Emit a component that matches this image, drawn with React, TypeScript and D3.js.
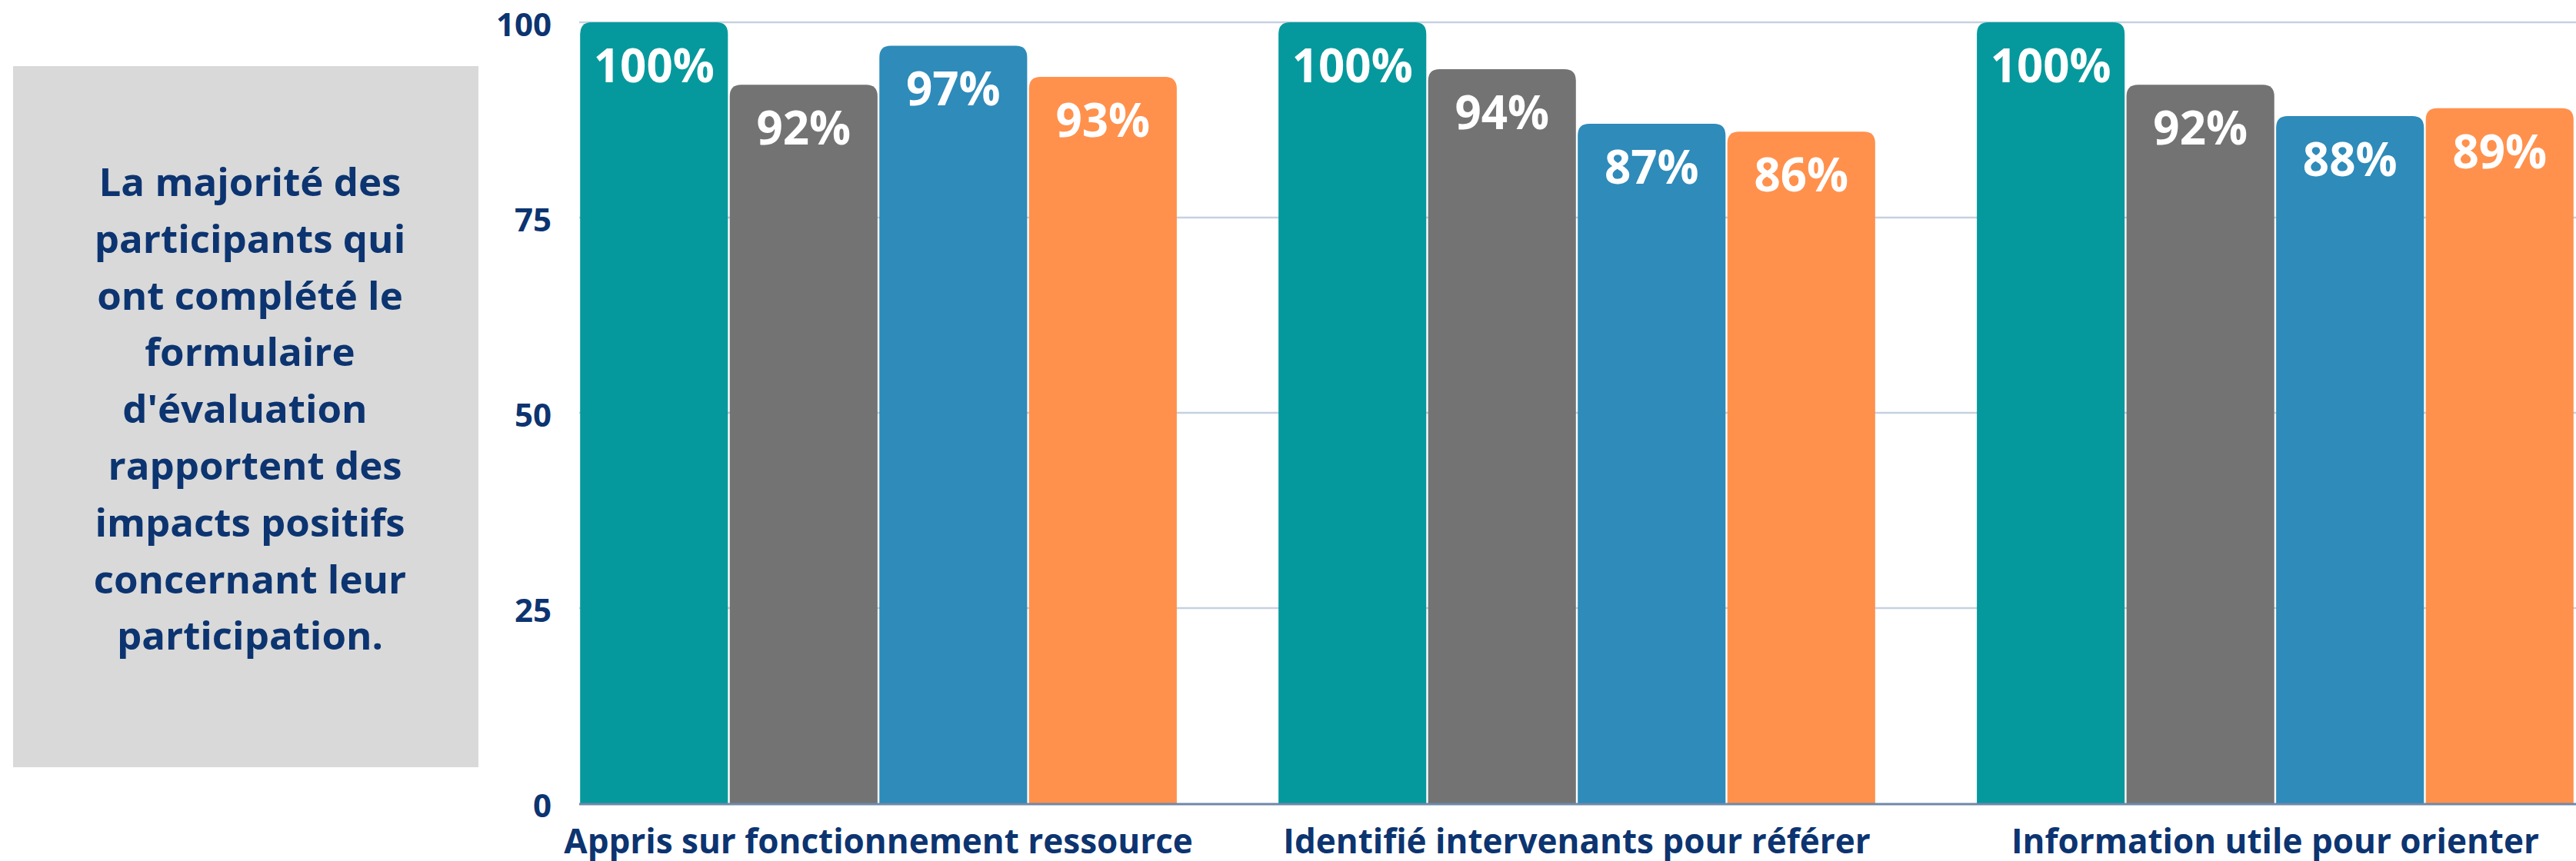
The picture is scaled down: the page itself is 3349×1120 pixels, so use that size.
import * as React from "react";
import { useEffect, useRef } from "react";
import * as d3 from "d3";

const categories = [
  "Appris sur fonctionnement ressource",
  "Identifié intervenants pour référer",
  "Information utile pour orienter",
];
const seriesKeys = ["s1", "s2", "s3", "s4"];
const series1 = [100, 100, 100];
const series2 = [92, 94, 92];
const series3 = [97, 87, 88];
const series4 = [93, 86, 89];
const seriesColors = ["#05999d", "#737373", "#2e8bba", "#ff914d"];
const yTicks = [0, 25, 50, 75, 100];
const noteLines = [
  "La majorité des",
  "participants qui",
  "ont complété le",
  "formulaire",
  "d'évaluation ",
  " rapportent des",
  "impacts positifs",
  "concernant leur",
  "participation.",
];

const W = 3349;
const H = 1120;
const FONT = "'Open Sans', sans-serif";
const NAVY = "#0c3470";

// path for a bar with rounded top corners only
function topRounded(x: number, y: number, w: number, h: number, r: number) {
  const rr = Math.min(r, w / 2, h);
  return `M${x},${y + h}V${y + rr}Q${x},${y} ${x + rr},${y}H${x + w - rr}Q${x + w},${y} ${x + w},${y + rr}V${y + h}Z`;
}

const App = () => {
  const ref = useRef<SVGSVGElement>(null);

  useEffect(() => {
    const svg = d3.select(ref.current);
    svg.selectAll("*").remove();

    const left = 753;
    const right = 3347;
    const top = 29;
    const bottom = 1045;

    const x0 = d3.scaleBand().domain(categories).range([left, right]).paddingInner(0.143).paddingOuter(0);
    const x1 = d3.scaleBand().domain(seriesKeys).range([0, x0.bandwidth()]).padding(0);
    const y = d3.scaleLinear().domain([0, 100]).range([bottom, top]);

    const rows = categories.map((c, i) => ({
      cat: c,
      vals: [series1[i], series2[i], series3[i], series4[i]],
    }));

    // note box
    svg.append("rect").attr("x", 17).attr("y", 86).attr("width", 605).attr("height", 912).attr("fill", "#d9d9d9");
    svg
      .append("g")
      .selectAll("text")
      .data(noteLines)
      .enter()
      .append("text")
      .attr("x", 325)
      .attr("y", (d, i) => 255 + i * 73.8)
      .attr("text-anchor", "middle")
      .style("white-space", "pre")
      .attr("font-family", FONT)
      .attr("font-weight", 700)
      .attr("font-size", 51)
      .attr("fill", NAVY)
      .text((d) => d);

    // grid
    svg
      .append("g")
      .selectAll("line")
      .data(yTicks.filter((t) => t > 0))
      .enter()
      .append("line")
      .attr("x1", left)
      .attr("x2", W)
      .attr("y1", (d) => y(d))
      .attr("y2", (d) => y(d))
      .attr("stroke", "#c6d1e0")
      .attr("stroke-width", 2.5);

    // y labels
    const yAxis = svg
      .append("g")
      .attr("transform", `translate(${left},4)`)
      .call(d3.axisLeft(y).tickValues(yTicks).tickSize(0).tickPadding(36).tickFormat(d3.format("d")));
    yAxis.select(".domain").remove();
    yAxis
      .selectAll("text")
      .attr("font-family", FONT)
      .attr("font-weight", 700)
      .attr("font-size", 42)
      .attr("fill", NAVY);

    // bars
    const groups = svg
      .append("g")
      .selectAll("g")
      .data(rows)
      .enter()
      .append("g")
      .attr("transform", (d) => `translate(${x0(d.cat)},0)`);

    groups
      .selectAll("path")
      .data((d) => d.vals.map((v, j) => ({ key: seriesKeys[j], v, j })))
      .enter()
      .append("path")
      .attr("d", (d) => topRounded(x1(d.key)! + 1.2, y(d.v), x1.bandwidth() - 2.4, bottom - y(d.v), 15))
      .attr("fill", (d) => seriesColors[d.j]);

    groups
      .selectAll("text")
      .data((d) => d.vals.map((v, j) => ({ key: seriesKeys[j], v, j })))
      .enter()
      .append("text")
      .attr("x", (d) => x1(d.key)! + x1.bandwidth() / 2)
      .attr("y", (d) => y(d.v) + 78)
      .attr("text-anchor", "middle")
      .attr("font-family", FONT)
      .attr("font-weight", 700)
      .attr("font-size", 60)
      .attr("fill", "#ffffff")
      .text((d) => `${d.v}%`);

    // baseline
    svg
      .append("line")
      .attr("x1", left)
      .attr("x2", W)
      .attr("y1", y(0) + 1)
      .attr("y2", y(0) + 1)
      .attr("stroke", "#6f88a8")
      .attr("stroke-width", 3);

    // category labels
    svg
      .append("g")
      .selectAll("text")
      .data(categories)
      .enter()
      .append("text")
      .attr("x", (d) => x0(d)! + x0.bandwidth() / 2)
      .attr("y", 1110)
      .attr("text-anchor", "middle")
      .attr("font-family", FONT)
      .attr("font-weight", 700)
      .attr("font-size", 44)
      .attr("fill", NAVY)
      .text((d) => d);
  });

  return (
    <div style={{ position: "absolute", left: 0, top: 0 }}>
      <svg ref={ref} width={W} height={H} style={{ display: "block", background: "#ffffff" }}></svg>
    </div>
  );
};

export default App;
